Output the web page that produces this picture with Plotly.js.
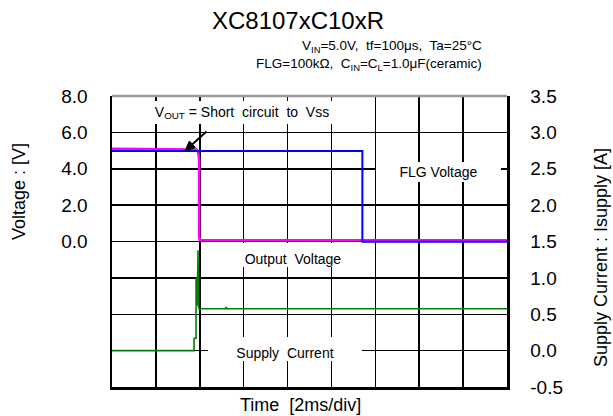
<!DOCTYPE html>
<html>
<head>
<meta charset="utf-8">
<script src="https://cdn.plot.ly/plotly-3.0.1.min.js"></script>
<style>html,body{margin:0;padding:0;background:#fff;}#chart{width:613px;height:416px;}</style>
</head>
<body>
<div id="chart"></div>
<script>
// ---- data ----
const timeOut = [0, 3.75, 3.86, 3.93, 3.97, 3.97, 4.0, 18];          // ms
const vOut    = [5.1, 5.1, 5.06, 4.9, 4.5, 0.3, 0.07, 0.07];          // V
const timeFlg = [0, 11.41, 11.41, 18];                                // ms
const vFlg    = [4.98, 4.98, -0.02, -0.02];                           // V
const timeSup = [0, 3.74, 3.74, 3.83, 3.83, 3.87, 3.89, 3.92, 3.94, 3.97, 5.18, 5.2, 5.24, 18]; // ms
const iSup    = [0, 0, 0.17, 0.17, 1.0, 0.92, 0.62, 1.38, 0.6, 0.575, 0.575, 0.6, 0.575, 0.575]; // A
const leftTickVals  = [-6, -4, -2, 0, 2, 4, 6, 8];
const leftTickText  = ['', '', '', '0.0', '2.0', '4.0', '6.0', '8.0'];
const rightTickVals = [-0.5, 0, 0.5, 1.0, 1.5, 2.0, 2.5, 3.0, 3.5];
const rightTickText = ['-0.5', '0.0', '0.5', '1.0', '1.5', '2.0', '2.5', '3.0', '3.5'];

// ---- layout helpers (plot area 112..507 x 96..387 px) ----
const L = 112, R = 507, T = 96, B = 387;
const px = x => (x - L) / (R - L);
const py = y => (B - y) / (B - T);
const FONT = 'Liberation Sans, Arial, sans-serif';

const traces = [
  {x: timeOut, y: vOut, type: 'scatter', mode: 'lines', line: {color: '#ff00ff', width: 2.6}, yaxis: 'y', hoverinfo: 'skip'},
  {x: timeFlg, y: vFlg, type: 'scatter', mode: 'lines', line: {color: '#0000ff', width: 2}, yaxis: 'y', hoverinfo: 'skip'},
  {x: timeSup, y: iSup, type: 'scatter', mode: 'lines', line: {color: '#008000', width: 1.6}, yaxis: 'y2', hoverinfo: 'skip'}
];

function box(text, x0, x1, y0, y1, valign) {
  return {xref: 'paper', yref: 'paper', x: px((x0 + x1) / 2), y: py((y0 + y1) / 2),
    xanchor: 'center', yanchor: 'middle', width: x1 - x0, height: y1 - y0,
    text: text, showarrow: false, bgcolor: '#ffffff', borderpad: 0, borderwidth: 0,
    valign: valign || 'middle', font: {family: FONT, size: 14, color: '#000'}};
}

const annotations = [
  box('V<sub>OUT</sub> = Short\u00a0 circuit\u00a0 to\u00a0 Vss', 148, 336, 101, 124),
  box('FLG Voltage', 376, 501, 162, 182),
  box('Output\u00a0 Voltage', 236, 350, 243, 267, 'bottom'),
  box('Supply\u00a0 Current', 208, 362, 337, 361, 'bottom'),
  {xref: 'paper', yref: 'paper', x: px(484), y: py(47), xanchor: 'right', yanchor: 'middle', showarrow: false,
   text: 'V<sub>IN</sub>=5.0V,\u00a0 tf=100\u03bcs,\u00a0 Ta=25\u00b0C', font: {family: FONT, size: 13.5, color: '#000'}},
  {xref: 'paper', yref: 'paper', x: px(484), y: py(65), xanchor: 'right', yanchor: 'middle', showarrow: false,
   text: 'FLG=100k\u03a9,\u00a0 C<sub>IN</sub>=C<sub>L</sub>=1.0\u03bcF(ceramic)', font: {family: FONT, size: 13.5, color: '#000'}},
  {xref: 'paper', yref: 'paper', x: px(300), y: py(405), xanchor: 'center', yanchor: 'middle', showarrow: false,
   text: 'Time\u00a0 [2ms/div]', font: {family: FONT, size: 18, color: '#000'}},
  {xref: 'paper', yref: 'paper', x: px(19), y: py(192), xanchor: 'center', yanchor: 'middle', showarrow: false,
   textangle: -90, text: 'Voltage : [V]', font: {family: FONT, size: 18, color: '#000'}},
  {xref: 'paper', yref: 'paper', x: px(601), y: py(258), xanchor: 'center', yanchor: 'middle', showarrow: false,
   textangle: -90, text: 'Supply Current : Isupply [A]', font: {family: FONT, size: 18, color: '#000'}}
];

// arrow (pointer from the V_OUT note to the output-voltage corner), in pixels
const tail = [206.5, 131.5], tip = [185, 151];
const dx = tip[0] - tail[0], dy = tip[1] - tail[1], len = Math.hypot(dx, dy);
const ux = dx / len, uy = dy / len, headL = 10, headW = 4.5;
const base = [tip[0] - headL * ux, tip[1] - headL * uy];
const c1 = [base[0] - headW * uy, base[1] + headW * ux], c2 = [base[0] + headW * uy, base[1] - headW * ux];
const P = p => px(p[0]) + ',' + py(p[1]);

const layout = {
  width: 613, height: 416,
  margin: {l: L, r: 613 - R, t: T, b: 416 - B, pad: 0},
  paper_bgcolor: '#fff', plot_bgcolor: '#fff',
  showlegend: false,
  font: {family: FONT, color: '#000'},
  title: {text: 'XC8107xC10xR', x: 298 / 613, xref: 'container', xanchor: 'center',
          y: 1 - 21 / 416, yref: 'container', yanchor: 'middle', font: {family: FONT, size: 24, color: '#000'}},
  xaxis: {range: [0, 18], dtick: 2, tick0: 0, showgrid: true, gridcolor: '#000', gridwidth: 1.5,
          zeroline: false, showticklabels: false, ticks: '', showline: true, linecolor: '#000', linewidth: 2.5},
  yaxis: {range: [-8, 8], tickvals: leftTickVals, ticktext: leftTickText, showgrid: true, gridcolor: '#000', gridwidth: 1.5,
          zeroline: false, ticks: '', showline: true, linecolor: '#000', linewidth: 2.5, ticklabelstandoff: 18,
          tickfont: {family: FONT, size: 19, color: '#000'}},
  yaxis2: {range: [-0.5, 3.5], tickvals: rightTickVals, ticktext: rightTickText, overlaying: 'y', side: 'right',
           showgrid: false, zeroline: false, ticks: '', showline: true, linecolor: '#000', linewidth: 2.5,
           ticklabelstandoff: 17, tickfont: {family: FONT, size: 19, color: '#000'}},
  shapes: [
    {type: 'line', xref: 'paper', yref: 'paper', x0: 0, x1: 1, y0: 1, y1: 1, line: {color: '#999', width: 2.5}},
    {type: 'line', xref: 'paper', yref: 'paper', layer: 'above', x0: px(tail[0]), y0: py(tail[1]), x1: px(base[0]), y1: py(base[1]),
     line: {color: '#000', width: 2}},
    {type: 'path', xref: 'paper', yref: 'paper', layer: 'above', path: 'M' + P(tip) + ' L' + P(c1) + ' L' + P(c2) + ' Z',
     fillcolor: '#000', line: {color: '#000', width: 1}}
  ],
  annotations: annotations
};

Plotly.newPlot('chart', traces, layout, {staticPlot: true, displayModeBar: false});
</script>
</body>
</html>
